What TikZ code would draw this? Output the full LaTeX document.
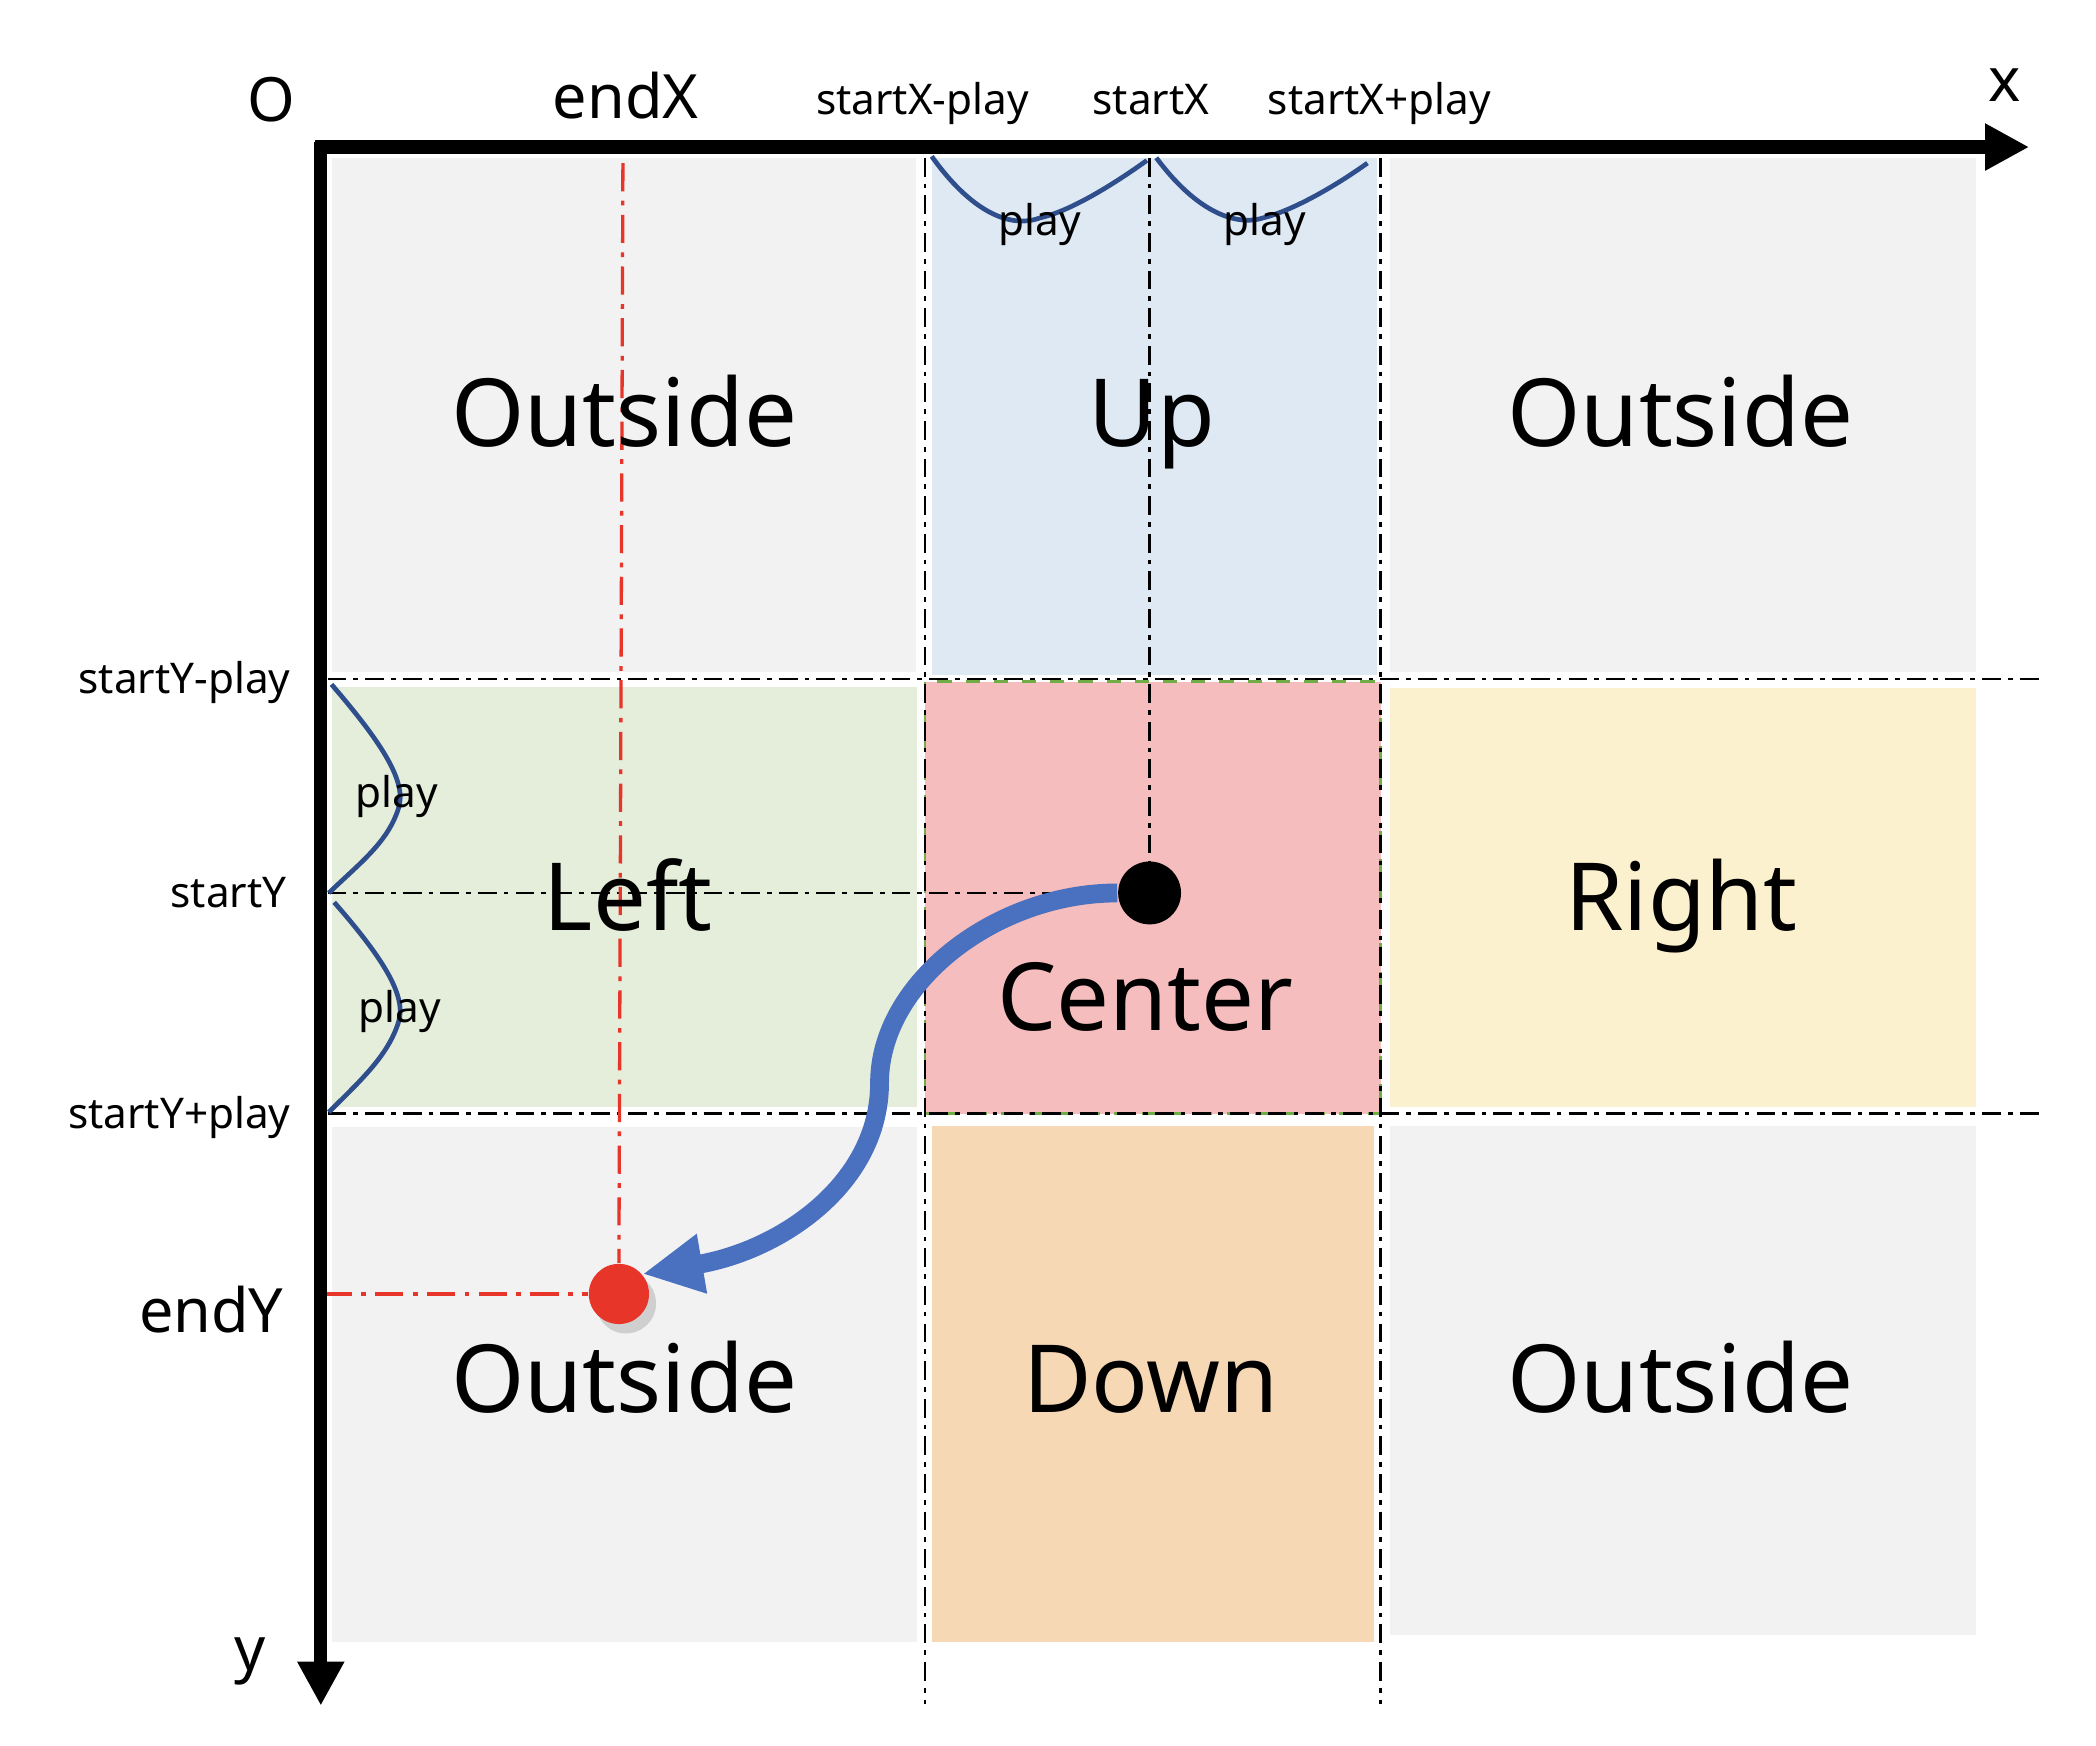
\documentclass[tikz,border=0pt]{standalone}
\usepackage{fontspec}
\setmainfont{Noto Sans}
\usetikzlibrary{arrows.meta,shadows}
\definecolor{cgray}{HTML}{F2F2F2}
\definecolor{cup}{HTML}{DFE9F4}
\definecolor{cleft}{HTML}{E5EDDB}
\definecolor{ccenter}{HTML}{F5BDBD}
\definecolor{cright}{HTML}{FCF1CF}
\definecolor{cdown}{HTML}{F6D8B5}
\definecolor{cblue}{HTML}{4A70C0}
\definecolor{cplay}{HTML}{2F4E8C}
\definecolor{cred}{HTML}{E8352A}
\definecolor{cgreen}{HTML}{70AD47}
\tikzset{
  big/.style={font=\fontsize{20}{24}\selectfont, inner sep=0pt, anchor=base},
  mid/.style={font=\fontsize{13}{16}\selectfont, inner sep=0pt, anchor=base},
  small/.style={font=\fontsize{9}{11}\selectfont, inner sep=0pt, anchor=base},
  guide/.style={black, line width=0.6pt, dash pattern=on 4pt off 1.5pt on 1pt off 1.5pt},
  redguide/.style={cred, line width=0.7pt, dash pattern=on 6pt off 2pt on 1pt off 2pt},
  playcurve/.style={cplay, line width=1pt},
  axis/.style={line width=2.8pt, -{Triangle[length=0.33cm,width=0.33cm]}},
}
\begin{document}
\begin{tikzpicture}[x=0.01cm, y=-0.01cm]
\useasboundingbox (0,0) rectangle (1568,1306);
% cells
\fill[cgray] (248,118) rectangle (685,503);
\fill[cup] (697,118) rectangle (1030,505);
\fill[cgray] (1040,118) rectangle (1478,503);
\fill[cleft] (248,514) rectangle (686,828);
\fill[ccenter] (692,510) rectangle (1033,833);
\draw[cgreen, line width=0.6pt, dashed] (692,510) rectangle (1033,833);
\fill[cright] (1040,515) rectangle (1478,828);
\fill[cgray] (248,843) rectangle (686,1228);
\fill[cdown] (697,842) rectangle (1028,1228);
\fill[cgray] (1040,842) rectangle (1478,1223);
% dots
\node[circle, fill=black, minimum size=0.47cm, inner sep=0pt] (start) at (860,668) {};
\node[circle, fill=cred, minimum size=0.45cm, inner sep=0pt, drop shadow={shadow xshift=1.5pt, shadow yshift=-2pt, opacity=0.3}] (end) at (463,968) {};
% guides
\coordinate (gx1t) at (692,118); \coordinate (gx1b) at (692,1275);
\coordinate (gx2t) at (1033,118); \coordinate (gx2b) at (1033,1275);
\coordinate (gxst) at (860,118);
\coordinate (gy1l) at (245,508); \coordinate (gy1r) at (1525,508);
\coordinate (gy2l) at (245,833); \coordinate (gy2r) at (1525,833);
\coordinate (gysl) at (245,668);
\draw[guide] (gx1t) -- (gx1b);
\draw[guide] (gx2t) -- (gx2b);
\draw[guide] (gxst) -- (start.north);
\draw[guide] (gy1l) -- (gy1r);
\draw[guide] (gy2l) -- (gy2r);
\draw[guide] (gysl) -- (start.west);
\coordinate (rxt) at (466,122);
\coordinate (ryl) at (242,968);
\draw[redguide] (rxt) -- (end.north);
\draw[redguide] (ryl) -- (end.west);
% play curves
\draw[playcurve] (697,117) .. controls (735,170) and (765,168) .. (778,163) .. controls (800,158) and (830,140) .. (858,120);
\draw[playcurve] (865,118) .. controls (900,165) and (930,168) .. (945,163) .. controls (965,158) and (995,142) .. (1023,122);
\draw[playcurve] (248,512) .. controls (285,555) and (305,585) .. (298,605) .. controls (290,630) and (270,645) .. (246,668);
\draw[playcurve] (250,675) .. controls (285,715) and (305,745) .. (298,765) .. controls (290,790) and (270,808) .. (246,832);
% region labels
\node[big] (tl) at (467,334) {Outside};
\node[big] (tu) at (862,334) {Up};
\node[big] (tr) at (1257,334) {Outside};
\node[big] (ml) at (470,696) {Left};
\node[big] (mc) at (857,771) {Center};
\node[big] (mr) at (1258,696) {Right};
\node[big] (bl) at (467,1057) {Outside};
\node[big] (bd) at (861,1057) {Down};
\node[big] (br) at (1257,1057) {Outside};
% axes
\coordinate (o1) at (236,110); \coordinate (xend) at (1518,110);
\coordinate (o2) at (240,106); \coordinate (yend) at (240,1276);
\draw[axis] (o1) -- (xend);
\draw[axis] (o2) -- (yend);
% axis labels
\node[mid] (lo) at (203,91) {O};
\node[mid] (lx) at (1500,76) {x};
\node[mid] (ly) at (187,1250) {y};
\node[mid] (lendx) at (468,89) {endX};
\node[mid] (lendy) at (158,997) {endY};
\node[small] (lsxm) at (690,86) {startX-play};
\node[small] (lsx) at (861,86) {startX};
\node[small] (lsxp) at (1032,86) {startX+play};
\node[small, anchor=base east] (lsym) at (218,519) {startY-play};
\node[small, anchor=base east] (lsy) at (215,679) {startY};
\node[small, anchor=base east] (lsyp) at (218,844) {startY+play};
\node[small] (p1) at (778,176) {play};
\node[small] (p2) at (946,176) {play};
\node[small] (p3) at (297,604) {play};
\node[small] (p4) at (299,765) {play};
% move arrow
\draw[cblue, line width=4pt, -{Triangle[length=0.45cm,width=0.42cm]}] (start.west) .. controls (745,668) and (658,735) .. (658,810) .. controls (658,885) and (585,935) .. (end.40);
\end{tikzpicture}
\end{document}
